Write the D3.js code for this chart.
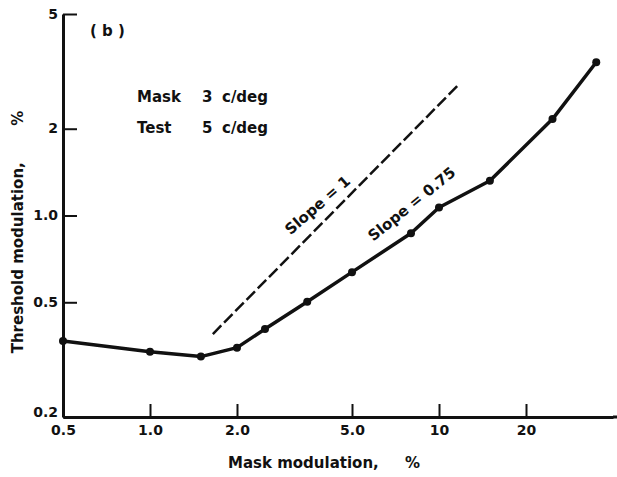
<!DOCTYPE html>
<html>
<head>
<meta charset="utf-8">
<script src="https://cdn.jsdelivr.net/npm/d3@7"></script>
<style>
  body { margin: 0; background: #fff; }
  text { font-family: "DejaVu Sans", sans-serif; font-weight: bold; fill: #111; }
</style>
</head>
<body>
<div id="chart"></div>
<script>
// data
var maskMod = [0.5, 1.0, 1.5, 2.0, 2.5, 3.5, 5.0, 8.0, 10, 15, 24.7, 35];
var threshold = [0.367, 0.337, 0.324, 0.348, 0.404, 0.502, 0.636, 0.868, 1.066, 1.32, 2.16, 3.4];
var slopeOneX = [1.65, 11.8];
var slopeOneY = [0.388, 2.87];
var xTicks = [0.5, 1.0, 2.0, 5.0, 10, 20];
var xTickLabels = ["0.5", "1.0", "2.0", "5.0", "10", "20"];
var yTicks = [0.2, 0.5, 1.0, 2, 5];
var yTickLabels = ["0.2", "0.5", "1.0", "2", "5"];

var W = 617, H = 477;
var svg = d3.select("#chart").append("svg")
  .attr("width", W)
  .attr("height", H);

var x = d3.scaleLog().domain([0.5, 40]).range([63, 613]);
var y = d3.scaleLog().domain([0.2, 5]).range([417, 14]);

// y axis
var yAxis = svg.append("g")
  .attr("transform", "translate(63,0)")
  .call(d3.axisLeft(y)
    .tickValues(yTicks)
    .tickFormat((d, i) => yTickLabels[i])
    .tickSizeInner(-14)
    .tickSizeOuter(0)
    .tickPadding(5));

// x axis
var xAxis = svg.append("g")
  .attr("transform", "translate(0,417)")
  .call(d3.axisBottom(x)
    .tickValues(xTicks)
    .tickFormat((d, i) => xTickLabels[i])
    .tickSizeInner(-13)
    .tickSizeOuter(0)
    .tickPadding(12));

svg.selectAll(".domain").attr("stroke", "#111").attr("stroke-width", 3);
svg.selectAll(".tick line").attr("stroke", "#111").attr("stroke-width", 2);
svg.selectAll(".tick text")
  .style("font-family", "DejaVu Sans, sans-serif")
  .style("font-weight", "bold")
  .style("font-size", "14px")
  .attr("fill", "#111");
yAxis.selectAll(".tick text").attr("dy", d => d === 0.2 ? "-0.05em" : "0.3em");
xAxis.selectAll(".tick text").attr("dy", "0.45em");

// x extends to the right edge
svg.append("line")
  .attr("x1", 613).attr("x2", W)
  .attr("y1", 417).attr("y2", 417)
  .attr("stroke", "#111").attr("stroke-width", 3);

// slope = 1 reference line
svg.append("path")
  .datum(d3.zip(slopeOneX, slopeOneY))
  .attr("d", d3.line().x(d => x(d[0])).y(d => y(d[1])))
  .attr("fill", "none")
  .attr("stroke", "#111")
  .attr("stroke-width", 2.5)
  .attr("stroke-dasharray", "12,4");

// data line
var pts = d3.zip(maskMod, threshold);
svg.append("path")
  .datum(pts)
  .attr("d", d3.line().x(d => x(d[0])).y(d => y(d[1])))
  .attr("fill", "none")
  .attr("stroke", "#111")
  .attr("stroke-width", 3.5)
  .attr("stroke-linejoin", "round");

svg.selectAll("circle.dot")
  .data(pts)
  .enter()
  .append("circle")
  .attr("class", "dot")
  .attr("cx", d => x(d[0]))
  .attr("cy", d => y(d[1]))
  .attr("r", 4)
  .attr("fill", "#111");

// labels
svg.append("text").attr("x", 90).attr("y", 36).style("font-size", "15px").text("( b )");

svg.append("text").attr("x", 137).attr("y", 102).style("font-size", "15px").text("Mask");
svg.append("text").attr("x", 202).attr("y", 102).style("font-size", "15px").text("3");
svg.append("text").attr("x", 222).attr("y", 102).style("font-size", "15px").text("c/deg");
svg.append("text").attr("x", 137).attr("y", 133).style("font-size", "15px").text("Test");
svg.append("text").attr("x", 202).attr("y", 133).style("font-size", "15px").text("5");
svg.append("text").attr("x", 222).attr("y", 133).style("font-size", "15px").text("c/deg");

svg.append("text")
  .attr("transform", "translate(321,209) rotate(-41)")
  .attr("text-anchor", "middle")
  .style("font-size", "15px")
  .text("Slope = 1");

svg.append("text")
  .attr("transform", "translate(415,208) rotate(-39)")
  .attr("text-anchor", "middle")
  .style("font-size", "15px")
  .text("Slope = 0.75");

svg.append("text")
  .attr("x", 228).attr("y", 468)
  .style("font-size", "15px")
  .attr("xml:space", "preserve")
  .text("Mask modulation,     %");

svg.append("text")
  .attr("transform", "translate(23,232) rotate(-90)")
  .attr("text-anchor", "middle")
  .attr("xml:space", "preserve")
  .style("font-size", "15px")
  .text("Threshold modulation,       %");
</script>
</body>
</html>
